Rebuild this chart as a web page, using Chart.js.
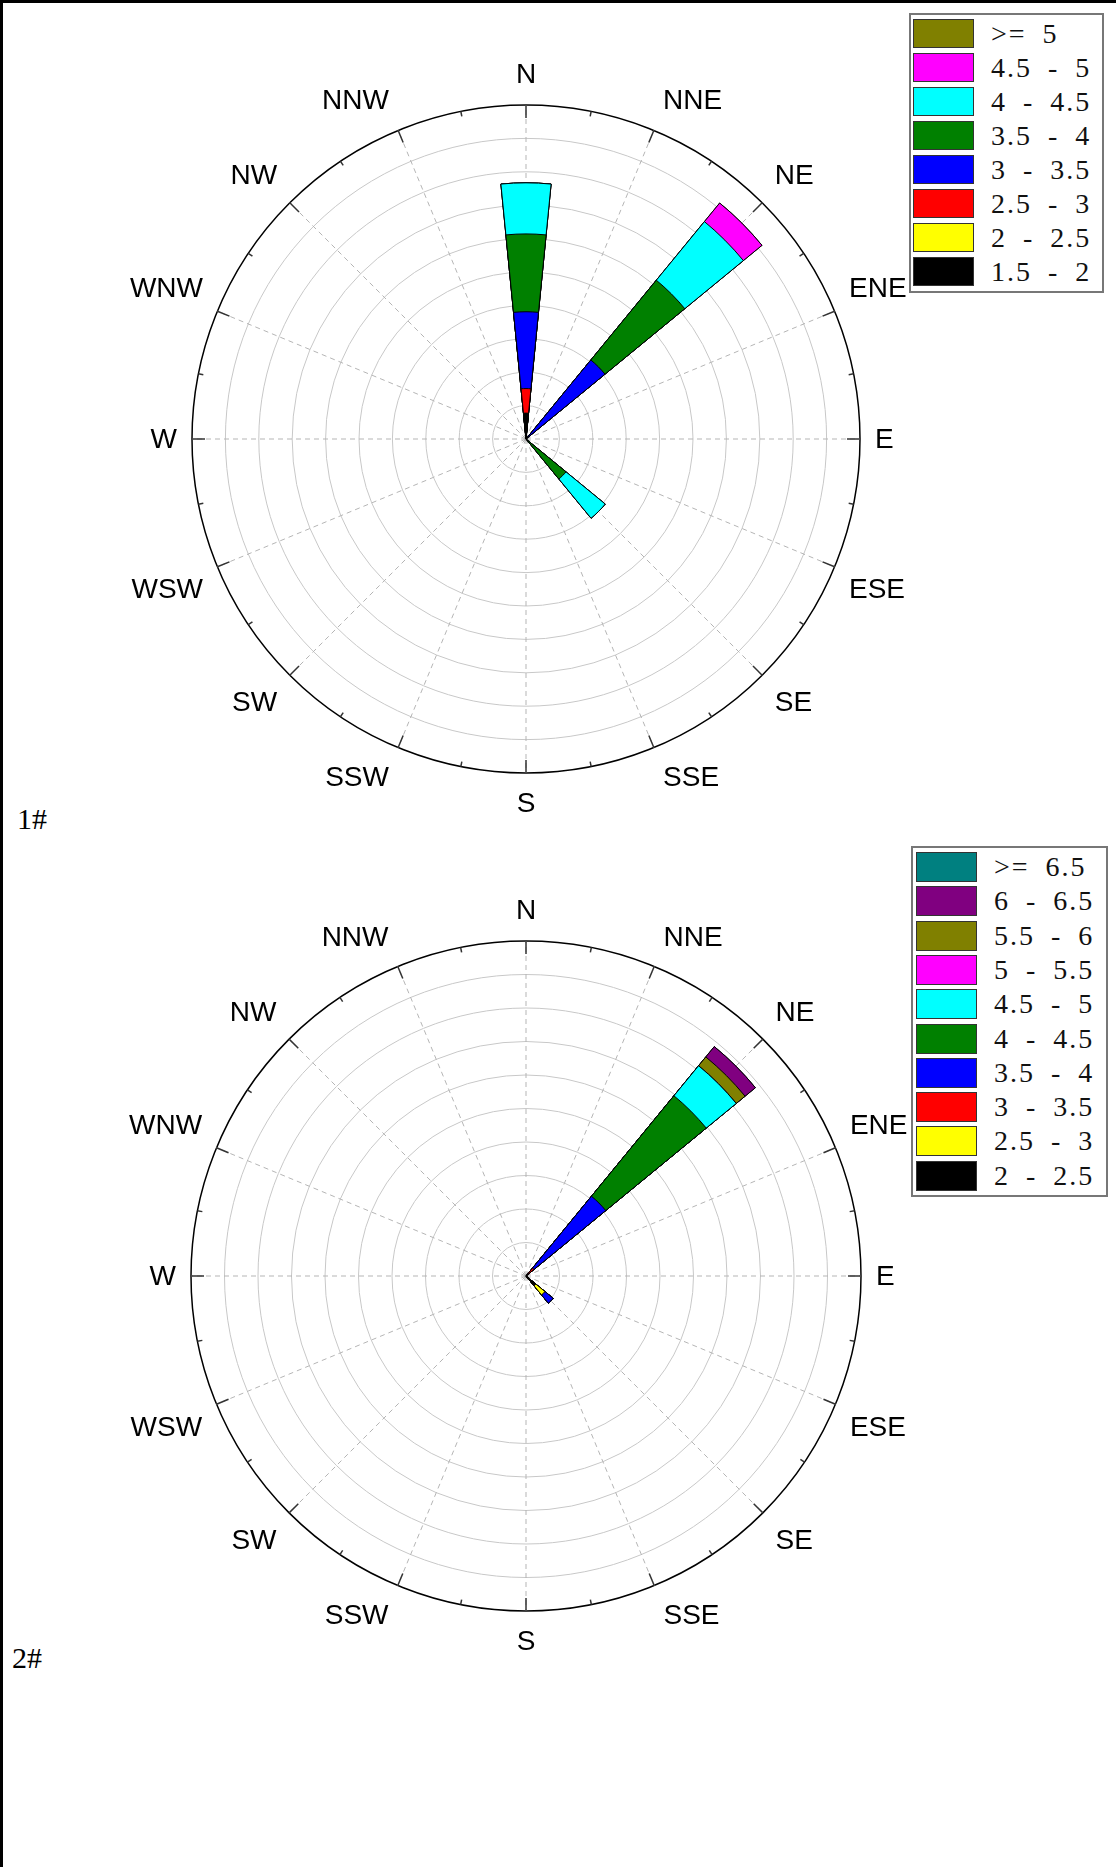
<!DOCTYPE html>
<html>
<head>
<meta charset="utf-8">
<script src="https://cdn.jsdelivr.net/npm/chart.js@4.4.1/dist/chart.umd.min.js"></script>
<style>
  html, body { margin:0; padding:0; background:#fff; }
  body { width:1116px; height:1867px; position:relative; overflow:hidden; }
  #frameTop { position:absolute; left:0; top:0; width:1116px; height:3px; background:#000; }
  #frameLeft { position:absolute; left:0; top:0; width:3px; height:1867px; background:#000; }
  canvas { position:absolute; }
  .legend { position:absolute; border:2px solid #777; background:#fff; box-sizing:border-box; z-index:5; }
  .sw { position:absolute; box-sizing:border-box; border:1px solid #333; }
  .lt { position:absolute; font-family:"Liberation Serif","DejaVu Serif",serif; font-size:28px; color:#111;
        letter-spacing:2px; word-spacing:7px; white-space:pre; }
  .tag { position:absolute; font-family:"Liberation Serif","DejaVu Serif",serif; font-size:30px; line-height:30px; color:#000; }
</style>
</head>
<body>
<div id="frameTop"></div>
<div id="frameLeft"></div>
<canvas id="c1" width="800" height="800" style="left:126px; top:39px;"></canvas>
<canvas id="c2" width="800" height="800" style="left:126px; top:876px;"></canvas>
<div class="tag" style="left:17px; top:804px;">1#</div>
<div class="tag" style="left:12px; top:1643px;">2#</div>
<div id="leg1" class="legend" style="left:909px; top:13px; width:195px; height:280px;"></div>
<div id="leg2" class="legend" style="left:911px; top:846px; width:197px; height:351px;"></div>
<script>
// ---- Directions ----
const directions = ['N','NNE','NE','ENE','E','ESE','SE','SSE','S','SSW','SW','WSW','W','WNW','NW','NNW'];

// ---- Chart 1# : speed bins (low -> high) ----
const bins1   = ['1.5 - 2','2 - 2.5','2.5 - 3','3 - 3.5','3.5 - 4','4 - 4.5','4.5 - 5','>= 5'];
const colors1 = ['#000000','#ffff00','#ff0000','#0000ff','#008000','#00ffff','#ff00ff','#808000'];
//                 N     NNE  NE    ENE  E    ESE  SE    SSE  S    SSW  SW   WSW  W    WNW  NW   NNW
const c1_15_2  = [0.77, 0,   0,    0,   0,   0,   0,    0,   0,   0,   0,   0,   0,   0,   0,   0];
const c1_2_25  = [0,    0,   0,    0,   0,   0,   0,    0,   0,   0,   0,   0,   0,   0,   0,   0];
const c1_25_3  = [0.74, 0,   0,    0,   0,   0,   0,    0,   0,   0,   0,   0,   0,   0,   0,   0];
const c1_3_35  = [2.30, 0,   3.06, 0,   0,   0,   0,    0,   0,   0,   0,   0,   0,   0,   0,   0];
const c1_35_4  = [2.33, 0,   3.09, 0,   0,   0,   1.55, 0,   0,   0,   0,   0,   0,   0,   0,   0];
const c1_4_45  = [1.53, 0,   2.27, 0,   0,   0,   1.52, 0,   0,   0,   0,   0,   0,   0,   0,   0];
const c1_45_5  = [0,    0,   0.72, 0,   0,   0,   0,    0,   0,   0,   0,   0,   0,   0,   0,   0];
const c1_ge5   = [0,    0,   0,    0,   0,   0,   0,    0,   0,   0,   0,   0,   0,   0,   0,   0];

// ---- Chart 2# : speed bins (low -> high) ----
const bins2   = ['2 - 2.5','2.5 - 3','3 - 3.5','3.5 - 4','4 - 4.5','4.5 - 5','5 - 5.5','5.5 - 6','6 - 6.5','>= 6.5'];
const colors2 = ['#000000','#ffff00','#ff0000','#0000ff','#008000','#00ffff','#ff00ff','#808000','#800080','#008080'];
const c2_2_25  = [0, 0, 0,    0, 0, 0, 0.38, 0, 0, 0, 0, 0, 0, 0, 0, 0];
const c2_25_3  = [0, 0, 0,    0, 0, 0, 0.35, 0, 0, 0, 0, 0, 0, 0, 0, 0];
const c2_3_35  = [0, 0, 0.31, 0, 0, 0, 0,    0, 0, 0, 0, 0, 0, 0, 0, 0];
const c2_35_4  = [0, 0, 2.77, 0, 0, 0, 0.32, 0, 0, 0, 0, 0, 0, 0, 0, 0];
const c2_4_45  = [0, 0, 3.88, 0, 0, 0, 0,    0, 0, 0, 0, 0, 0, 0, 0, 0];
const c2_45_5  = [0, 0, 1.16, 0, 0, 0, 0,    0, 0, 0, 0, 0, 0, 0, 0, 0];
const c2_5_55  = [0, 0, 0,    0, 0, 0, 0,    0, 0, 0, 0, 0, 0, 0, 0, 0];
const c2_55_6  = [0, 0, 0.34, 0, 0, 0, 0,    0, 0, 0, 0, 0, 0, 0, 0, 0];
const c2_6_65  = [0, 0, 0.40, 0, 0, 0, 0,    0, 0, 0, 0, 0, 0, 0, 0, 0];
const c2_ge65  = [0, 0, 0,    0, 0, 0, 0,    0, 0, 0, 0, 0, 0, 0, 0, 0];

const series1 = [c1_15_2, c1_2_25, c1_25_3, c1_3_35, c1_35_4, c1_4_45, c1_45_5, c1_ge5];
const series2 = [c2_2_25, c2_25_3, c2_3_35, c2_35_4, c2_4_45, c2_45_5, c2_5_55, c2_55_6, c2_6_65, c2_ge65];

// radial axis: 10 rings
const rMax = 10, rStep = 1;

// Each direction gets a slot followed by an empty slot (petal = half the sector width)
const slotLabels = [];
directions.forEach(d => { slotLabels.push(d); slotLabels.push(''); });

function buildDatasets(bins, colors, series) {
  const cum = new Array(directions.length).fill(0);
  return bins.map((b, k) => {
    const data = [];
    for (let d = 0; d < directions.length; d++) {
      cum[d] += series[k][d];
      data.push(+cum[d].toFixed(4));
      data.push(0);
    }
    return {
      label: b, data,
      backgroundColor: colors[k],
      borderColor: '#000',
      borderWidth: ctx => (ctx.raw > 0 ? 1 : 0),
      order: k
    };
  });
}

const compassPlugin = {
  id: 'compass',
  beforeDatasetsDraw(chart) {
    const s = chart.scales.r, ctx = chart.ctx;
    const R = s.drawingArea, cx = s.xCenter, cy = s.yCenter;
    ctx.save();
    ctx.strokeStyle = '#b5b5b5';
    ctx.lineWidth = 1;
    ctx.setLineDash([5, 4]);
    for (let k = 0; k < 16; k++) {
      const a = k * Math.PI / 8;
      ctx.beginPath();
      ctx.moveTo(cx, cy);
      ctx.lineTo(cx + R * Math.sin(a), cy - R * Math.cos(a));
      ctx.stroke();
    }
    ctx.restore();
  },
  afterDatasetsDraw(chart) {
    const s = chart.scales.r, ctx = chart.ctx;
    const R = s.drawingArea, cx = s.xCenter, cy = s.yCenter;
    ctx.save();
    ctx.strokeStyle = '#333';
    ctx.lineWidth = 1.5;
    for (let k = 0; k < 32; k++) {
      const a = k * Math.PI / 16;
      const len = (k % 2 === 0) ? 13 : 5;
      ctx.beginPath();
      ctx.moveTo(cx + (R - len) * Math.sin(a), cy - (R - len) * Math.cos(a));
      ctx.lineTo(cx + R * Math.sin(a), cy - R * Math.cos(a));
      ctx.stroke();
    }
    ctx.font = '28px "Liberation Sans", Arial, sans-serif';
    ctx.fillStyle = '#000';
    ctx.textAlign = 'center';
    ctx.textBaseline = 'middle';
    directions.forEach((d, k) => {
      const a = k * Math.PI / 8;
      const w = ctx.measureText(d).width;
      const sn = Math.sin(a), cs = Math.cos(a);
      const sx = Math.abs(sn) < 1e-6 ? 0 : Math.sign(sn);
      const sy = Math.abs(cs) < 1e-6 ? 0 : Math.sign(cs);
      const x = cx + R * sn + sx * (15 * Math.sqrt(Math.abs(sn)) + w / 2);
      const y = cy - R * cs - sy * (10 + 20.5 * Math.sqrt(Math.abs(cs)));
      ctx.fillText(d, x, y + 1);
    });
    ctx.restore();
  }
};

function makeChart(id, bins, colors, series, pad) {
  return new Chart(document.getElementById(id), {
    type: 'polarArea',
    data: { labels: slotLabels, datasets: buildDatasets(bins, colors, series) },
    options: {
      responsive: false,
      animation: false,
      events: [],
      devicePixelRatio: 1,
      layout: { padding: pad },
      plugins: { legend: { display: false }, tooltip: { enabled: false } },
      scales: {
        r: {
          min: 0, max: rMax,
          startAngle: -360 / slotLabels.length / 2,
          ticks: { display: false, stepSize: rStep },
          grid: {
            circular: true,
            color: c => (c.tick && c.tick.value === rMax ? '#000' : '#c8c8c8'),
            lineWidth: c => (c.tick && c.tick.value === rMax ? 1.5 : 1)
          },
          angleLines: { display: false },
          pointLabels: { display: false }
        }
      }
    },
    plugins: [compassPlugin]
  });
}

makeChart('c1', bins1, colors1, series1, 66);
makeChart('c2', bins2, colors2, series2, 65);

function buildLegend(id, bins, colors, swLeft, swTop, swW, swH, pitch, txtLeft) {
  const el = document.getElementById(id);
  const n = bins.length;
  for (let i = 0; i < n; i++) {
    const k = n - 1 - i;
    const top = swTop + i * pitch;
    const sw = document.createElement('div');
    sw.className = 'sw';
    sw.style.cssText = `left:${swLeft}px;top:${top}px;width:${swW}px;height:${swH}px;background:${colors[k]};`;
    el.appendChild(sw);
    const t = document.createElement('div');
    t.className = 'lt';
    t.style.cssText = `left:${txtLeft}px;top:${top}px;height:${swH}px;line-height:${swH}px;`;
    t.textContent = bins[k];
    el.appendChild(t);
  }
}
buildLegend('leg1', bins1, colors1, 2, 4, 61, 29, 34, 80);
buildLegend('leg2', bins2, colors2, 3, 4, 61, 30, 34.3, 81);
</script>
</body>
</html>
